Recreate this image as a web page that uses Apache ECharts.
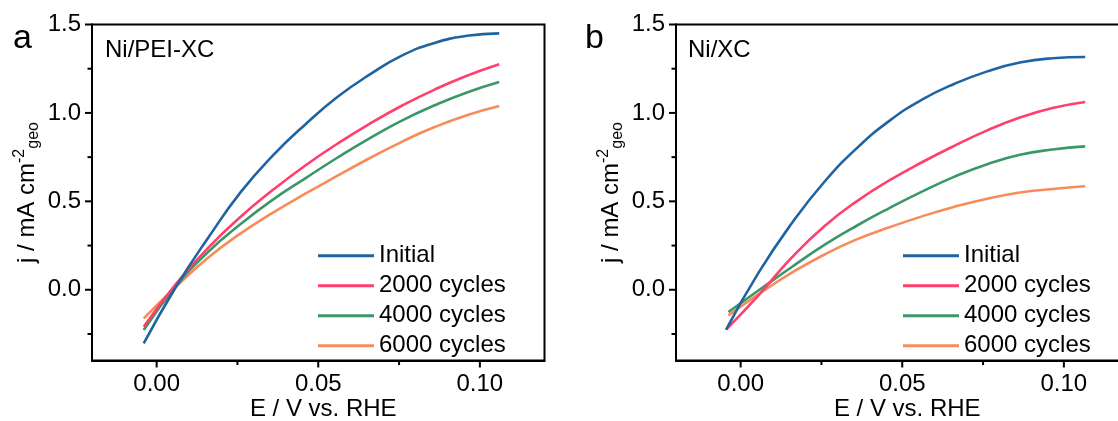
<!DOCTYPE html>
<html>
<head>
<meta charset="utf-8">
<script src="https://cdn.jsdelivr.net/npm/echarts@6/dist/echarts.min.js"></script>
<style>
html,body{margin:0;padding:0;background:#fff;}
#chart{width:1118px;height:421px;}
</style>
</head>
<body>
<div id="chart"></div>
<script>
// ---------- DATA ----------
const seriesNames = ['Initial', '2000 cycles', '4000 cycles', '6000 cycles'];
const seriesColors = ['#1f64a0', '#ff3f6c', '#3a9868', '#f78c5a'];

// Panel a: Ni/PEI-XC  (E / V vs. RHE, j / mA cm-2)
const xA = [-0.004, 0.006, 0.016, 0.026, 0.036, 0.046, 0.056, 0.066, 0.076, 0.086, 0.096, 0.106];
const aInitial = [-0.303, 0.017, 0.295, 0.552, 0.760, 0.935, 1.091, 1.218, 1.325, 1.396, 1.436, 1.450];
const a2000    = [-0.209, 0.033, 0.238, 0.413, 0.565, 0.703, 0.827, 0.940, 1.042, 1.132, 1.210, 1.275];
const a4000    = [-0.228, 0.020, 0.215, 0.372, 0.510, 0.630, 0.748, 0.858, 0.958, 1.043, 1.116, 1.175];
const a6000    = [-0.162, 0.017, 0.182, 0.319, 0.436, 0.543, 0.645, 0.745, 0.838, 0.920, 0.987, 1.039];

// Panel b: Ni/XC
const xB  = [-0.0045, 0.0056, 0.0157, 0.0258, 0.0359, 0.046, 0.0561, 0.0662, 0.0763, 0.0864, 0.0965, 0.1066];
const xB2 = [-0.0038, 0.0056, 0.0157, 0.0258, 0.0359, 0.046, 0.0561, 0.0662, 0.0763, 0.0864, 0.0965, 0.1066];
const bInitial = [-0.225, 0.098, 0.373, 0.608, 0.800, 0.955, 1.075, 1.165, 1.235, 1.285, 1.309, 1.316];
const b2000    = [-0.225, -0.030, 0.180, 0.358, 0.500, 0.618, 0.721, 0.815, 0.901, 0.974, 1.028, 1.062];
const b4000    = [-0.126, -0.003, 0.127, 0.252, 0.362, 0.462, 0.555, 0.640, 0.710, 0.763, 0.793, 0.811];
const b6000    = [-0.145, -0.025, 0.095, 0.198, 0.285, 0.353, 0.415, 0.470, 0.515, 0.550, 0.570, 0.585];

// ticks
const xTickRange = [0, 0.10, 0.05];     // labelled: min, max, step
const yTickRange = [0, 1.5, 0.5];
const xMajorTicks = [0, 0.05, 0.10];
const xMinorTicks = [0.025, 0.075];
const yMajorTicks = [0, 0.5, 1.0, 1.5];
const yMinorTicks = [-0.25, 0.25, 0.75, 1.25];
const panelLetters = ['a', 'b'];
const panelTitles = ['Ni/PEI-XC', 'Ni/XC'];
const xAxisTitle = 'E / V vs. RHE';

// ---------- CHART ----------
const FONT = "'Liberation Sans', Arial, sans-serif";
const chart = echarts.init(document.getElementById('chart'), null, {renderer: 'canvas'});

const X_MIN = -0.02, X_MAX = 0.12, Y_MIN = -0.4, Y_MAX = 1.5;
const TOP = 24.5, W = 452.5, H = 336;
const LEFTS = [92, 676];
const MAJOR_LEN = 6, MINOR_LEN = 3.5;
const pxX = W / (X_MAX - X_MIN), pxY = H / (Y_MAX - Y_MIN);

const grids = [], xAxes = [], yAxes = [];
const hidden = (gi, min, max) => ({type: 'value', gridIndex: gi, min: min, max: max, show: false});
function addGrid(g) { grids.push(Object.assign({show: false, outerBoundsMode: 'none', containLabel: false}, g)); return grids.length - 1; }

function mainX(gi) {
  return {
    type: 'value', gridIndex: gi, min: X_MIN, max: X_MAX, position: 'bottom',
    name: xAxisTitle, nameLocation: 'middle', nameGap: 37, nameMoveOverlap: false,
    nameTextStyle: {fontFamily: FONT, fontSize: 24, color: '#000', padding: [0, 0, 0, 10]},
    axisLine: {show: true, onZero: false, lineStyle: {color: '#000', width: 2}},
    axisTick: {show: false}, axisLabel: {show: false}, splitLine: {show: false}
  };
}
function mainY(gi) {
  return {
    type: 'value', gridIndex: gi, min: Y_MIN, max: Y_MAX, position: 'left',
    name: '{m|j / mA cm}{sup|-2}{sub|geo}', nameLocation: 'middle', nameRotate: 90, nameGap: 50,
    nameMoveOverlap: false,
    nameTextStyle: {
      fontFamily: FONT, fontSize: 24, color: '#000',
      rich: {
        m: {fontFamily: FONT, fontSize: 24, lineHeight: 30, color: '#000'},
        sup: {fontFamily: FONT, fontSize: 16, lineHeight: 16, verticalAlign: 'top', color: '#000'},
        sub: {fontFamily: FONT, fontSize: 16, lineHeight: 16, verticalAlign: 'bottom', color: '#000'}
      }
    },
    axisLine: {show: true, onZero: false, lineStyle: {color: '#000', width: 2}},
    axisTick: {show: false}, axisLabel: {show: false}, splitLine: {show: false}
  };
}

// main grids (0,1)
LEFTS.forEach(L => {
  const gi = addGrid({left: L, top: TOP, width: W, height: H, show: true, borderColor: '#000', borderWidth: 2, backgroundColor: 'transparent'});
  xAxes.push(mainX(gi)); yAxes.push(mainY(gi));
});
// label overlay grids: sub-ranges of the same scale so labels fall on 0, 0.5, ... / 0.00, 0.05, 0.10
LEFTS.forEach(L => {
  let gi = addGrid({left: L, top: TOP + (Y_MAX - yTickRange[1]) * pxY, width: W, height: (yTickRange[1] - yTickRange[0]) * pxY});
  xAxes.push(hidden(gi, 0, 1));
  yAxes.push({type: 'value', gridIndex: gi, min: yTickRange[0], max: yTickRange[1], interval: yTickRange[2], position: 'left',
    axisLine: {show: false, onZero: false}, splitLine: {show: false}, axisTick: {show: false},
    axisLabel: {show: true, margin: 11, fontFamily: FONT, fontSize: 24, color: '#000', formatter: v => v.toFixed(1)}});
  gi = addGrid({left: L + (xTickRange[0] - X_MIN) * pxX, top: TOP, width: (xTickRange[1] - xTickRange[0]) * pxX, height: H});
  yAxes.push(hidden(gi, 0, 1));
  xAxes.push({type: 'value', gridIndex: gi, min: xTickRange[0], max: xTickRange[1], interval: xTickRange[2], position: 'bottom',
    axisLine: {show: false, onZero: false}, splitLine: {show: false}, axisTick: {show: false},
    axisLabel: {show: true, margin: 12, fontFamily: FONT, fontSize: 24, color: '#000', formatter: v => v.toFixed(2)}});
});

function pairs(xs, ys) { return xs.map((x, i) => [x, ys[i]]); }

const panelData = [
  [pairs(xA, aInitial), pairs(xA, a2000), pairs(xA, a4000), pairs(xA, a6000)],
  [pairs(xB, bInitial), pairs(xB, b2000), pairs(xB2, b4000), pairs(xB2, b6000)]
];

const series = [];
panelData.forEach((sets, gi) => {
  sets.forEach((d, k) => {
    series.push({
      type: 'line', name: seriesNames[k], xAxisIndex: gi, yAxisIndex: gi,
      data: d, smooth: 0.5, showSymbol: false, symbol: 'none',
      lineStyle: {color: seriesColors[k], width: 2.6},
      itemStyle: {color: seriesColors[k]},
      z: 10 - k
    });
  });
  // outward tick marks, positioned through the panel's own axes: [x, y, length]
  const yTickData = yMajorTicks.map(v => [X_MIN, v, MAJOR_LEN]).concat(yMinorTicks.map(v => [X_MIN, v, MINOR_LEN]));
  const xTickData = xMajorTicks.map(v => [v, Y_MIN, MAJOR_LEN]).concat(xMinorTicks.map(v => [v, Y_MIN, MINOR_LEN]));
  series.push({
    type: 'custom', name: 'yticks' + gi, xAxisIndex: gi, yAxisIndex: gi, clip: false, silent: true, z: 20,
    data: yTickData, encode: {x: 0, y: 1},
    renderItem: (params, api) => {
      const p = api.coord([api.value(0), api.value(1)]);
      const len = api.value(2);
      return {type: 'rect', shape: {x: p[0] - len - 1, y: p[1] - 1, width: len + 1, height: 2}, style: {fill: '#000'}};
    }
  });
  series.push({
    type: 'custom', name: 'xticks' + gi, xAxisIndex: gi, yAxisIndex: gi, clip: false, silent: true, z: 20,
    data: xTickData, encode: {x: 0, y: 1},
    renderItem: (params, api) => {
      const p = api.coord([api.value(0), api.value(1)]);
      const len = api.value(2);
      return {type: 'rect', shape: {x: p[0] - 1, y: p[1], width: 2, height: len + 1}, style: {fill: '#000'}};
    }
  });
});

function legend(left) {
  return {
    orient: 'vertical', left: left, top: 243.7, padding: 0, itemGap: 6,
    itemWidth: 56, itemHeight: 3, icon: 'rect',
    data: seriesNames, selectedMode: false,
    textStyle: {fontFamily: FONT, fontSize: 24, color: '#000', lineHeight: 24}
  };
}

const graphics = [];
[13, 585].forEach((x, i) => {
  graphics.push({type: 'text', left: x, top: 22, style: {text: panelLetters[i], font: "34px 'Liberation Sans', Arial, sans-serif", fill: '#000'}});
});
[105, 688].forEach((x, i) => {
  graphics.push({type: 'text', left: x, top: 38, style: {text: panelTitles[i], font: "24px 'Liberation Sans', Arial, sans-serif", fill: '#000'}});
});

chart.setOption({
  animation: false,
  backgroundColor: '#fff',
  grid: grids,
  xAxis: xAxes,
  yAxis: yAxes,
  legend: [legend(318), legend(903)],
  series: series,
  graphic: graphics
});
</script>
</body>
</html>
